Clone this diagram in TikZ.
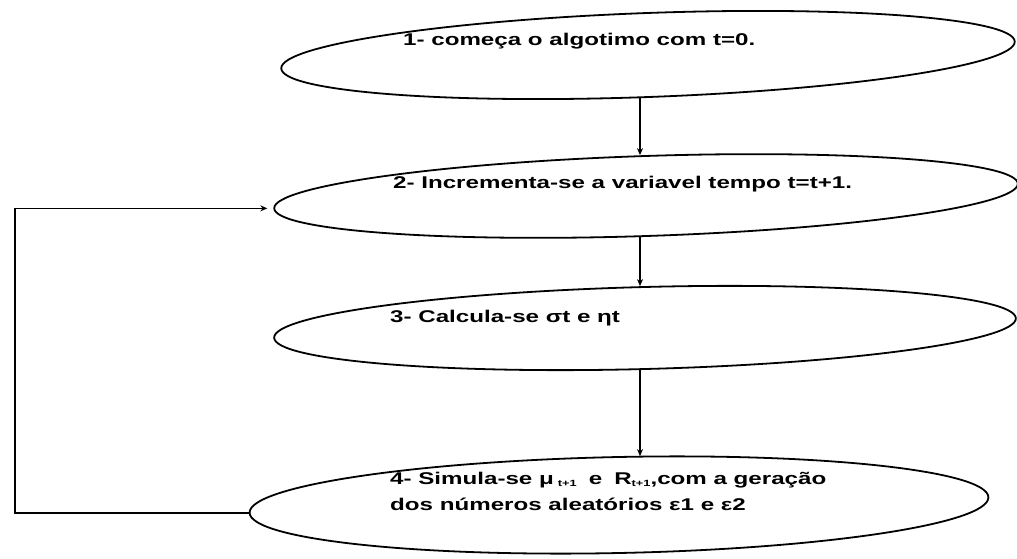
\documentclass[tikz,border=0pt]{standalone}
\usepackage{fontspec}
\setmainfont{Liberation Sans}
\usetikzlibrary{shapes.geometric,arrows.meta}
\newcommand{\sbx}[1]{\scalebox{1.42}[1]{#1}}
\newcommand{\subtp}{\raisebox{-2pt}{\fontsize{9}{10}\selectfont t+1}}
\begin{document}
\begin{tikzpicture}[x=1pt,y=1pt,
  ell/.style={draw, ellipse, line width=1.8pt, inner sep=0pt},
  arr/.style={line width=1.6pt, -{Stealth[length=7pt,width=6pt]}},
  lbl/.style={anchor=west, inner sep=0pt, font=\fontsize{17}{22}\selectfont\bfseries, align=left}]
\useasboundingbox (0,0) rectangle (1017,558);
\node[ell, minimum width=734pt, minimum height=84pt, rotate=2.1] (e1) at (648,503) {};
\node[ell, minimum width=744pt, minimum height=80pt, rotate=1.9] (e2) at (646,362) {};
\node[ell, minimum width=742pt, minimum height=82pt, rotate=1.5] (e3) at (645,230) {};
\node[ell, minimum width=739pt, minimum height=96pt, rotate=1.2] (e4) at (619,53) {};
\node[lbl] (t1) at (403,517) {\sbx{1- começa o algotimo com t=0.}};
\node[lbl] (t2) at (393,374) {\sbx{2- Incrementa-se a variavel tempo t=t+1.}};
\node[lbl] (t3) at (390,240) {\sbx{3- Calcula-se σt e ηt}};
\node[lbl] (t4) at (390,67) {\sbx{4- Simula-se μ\,\subtp\enspace e\enspace R\subtp,com a geração}\\[4pt]\sbx{dos números aleatórios ε1 e ε2}};
\coordinate (ax) at (640,0);
\coordinate (lx) at (15,0);
\draw[arr] (ax |- e1.south) -- (ax |- e2.north);
\draw[arr] (ax |- e2.south) -- (ax |- e3.north);
\draw[arr] (ax |- e3.south) -- (ax |- e4.north);
\draw[arr, shorten >=6pt] (e4.west) -- (lx |- e4.west) |- (e2.west);
\end{tikzpicture}
\end{document}
